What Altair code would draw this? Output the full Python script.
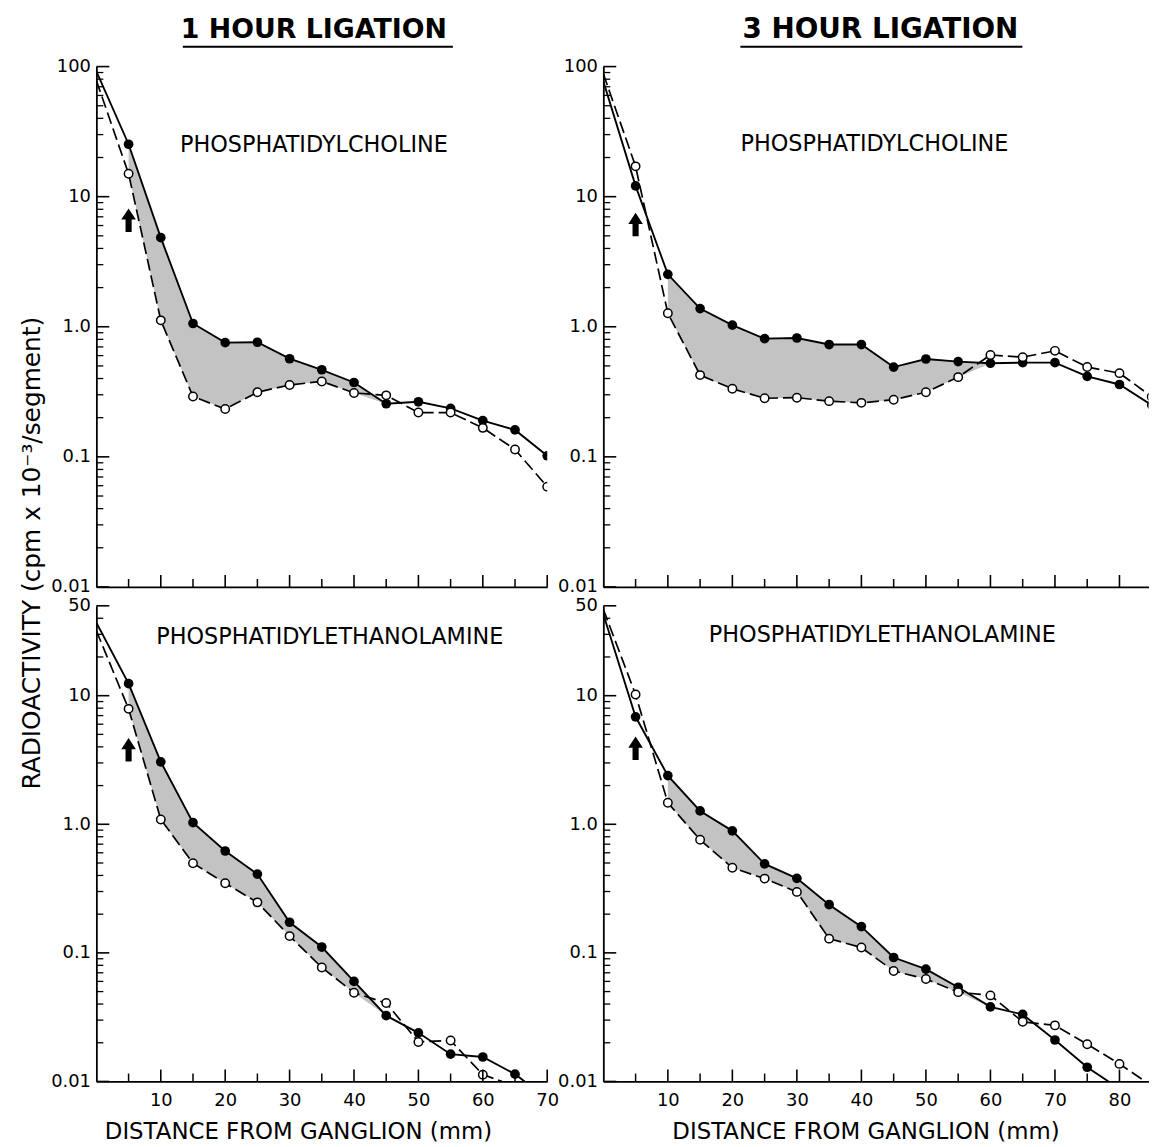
import altair as alt
import pandas as pd

FONT = "DejaVu Sans"

# ---------------- data ----------------
# 1 hour ligation, phosphatidylcholine (top-left)
tl_x = [0, 5, 10, 15, 20, 25, 30, 35, 40, 45, 50, 55, 60, 65, 70]
tl_closed = [92, 25.3, 4.84, 1.06, 0.755, 0.76, 0.568, 0.467, 0.373, 0.256, 0.265, 0.236, 0.19, 0.161, 0.102]
tl_open = [78, 15.0, 1.12, 0.291, 0.233, 0.314, 0.357, 0.38, 0.31, 0.297, 0.219, 0.219, 0.167, 0.114, 0.059]

# 3 hour ligation, phosphatidylcholine (top-right)
tr_x = [0, 5, 10, 15, 20, 25, 30, 35, 40, 45, 50, 55, 60, 65, 70, 75, 80, 85]
tr_closed = [77, 12.1, 2.53, 1.38, 1.03, 0.81, 0.82, 0.73, 0.73, 0.49, 0.565, 0.54, 0.524, 0.53, 0.53, 0.415, 0.36, 0.25]
tr_open = [88, 17.1, 1.27, 0.425, 0.334, 0.282, 0.285, 0.268, 0.26, 0.275, 0.314, 0.41, 0.607, 0.584, 0.653, 0.49, 0.44, 0.29]

# 1 hour ligation, phosphatidylethanolamine (bottom-left)
bl_closed_x = [0, 5, 10, 15, 20, 25, 30, 35, 40, 45, 50, 55, 60, 65, 66.5]
bl_closed = [37, 12.4, 3.06, 1.03, 0.62, 0.41, 0.173, 0.111, 0.060, 0.0325, 0.0239, 0.0163, 0.0155, 0.0114, 0.01]
bl_open_x = [0, 5, 10, 15, 20, 25, 30, 35, 40, 45, 50, 55, 60, 63]
bl_open = [32, 7.9, 1.09, 0.498, 0.348, 0.247, 0.135, 0.077, 0.049, 0.0407, 0.0203, 0.0208, 0.0113, 0.01]

# 3 hour ligation, phosphatidylethanolamine (bottom-right)
br_closed_x = [0, 5, 10, 15, 20, 25, 30, 35, 40, 45, 50, 55, 60, 65, 70, 75, 78.3]
br_closed = [43, 6.85, 2.39, 1.27, 0.889, 0.492, 0.38, 0.237, 0.16, 0.092, 0.0748, 0.054, 0.038, 0.0332, 0.021, 0.0129, 0.01]
br_open_x = [0, 5, 10, 15, 20, 25, 30, 35, 40, 45, 50, 55, 60, 65, 70, 75, 80, 84]
br_open = [47, 10.2, 1.47, 0.757, 0.459, 0.378, 0.298, 0.129, 0.11, 0.0723, 0.0627, 0.0495, 0.0467, 0.0291, 0.0273, 0.0195, 0.0137, 0.01]

# shaded stretch (closed above open) per panel, in mm
shade_tl = (5, 45)
shade_tr = (10, 60)
shade_bl = (5, 45)
shade_br = (10, 60)

# ligature arrow heights (at 5 mm)
arrow_y = [6.6, 6.1, 3.8, 3.9]

# axis tick values
top_major = [0.01, 0.1, 1, 10, 100]
top_minor = [m * d for d in [0.01, 0.1, 1, 10] for m in range(2, 10)]
bot_major = [0.01, 0.1, 1, 10, 50]
bot_minor = [m * d for d in [0.01, 0.1, 1] for m in range(2, 10)] + [20, 30, 40]
left_long_xticks = [10, 20, 30, 40, 50, 60, 70]
left_short_xticks = [5, 15, 25, 35, 45, 55, 65]
right_long_xticks = [10, 20, 30, 40, 50, 60, 70, 80]
right_short_xticks = [5, 15, 25, 35, 45, 55, 65, 75]
left_xlabels = [10, 20, 30, 40, 50, 60, 70]
right_xlabels = [10, 20, 30, 40, 50, 60, 70, 80]

titles = ["1 HOUR LIGATION", "3 HOUR LIGATION"]
compounds = ["PHOSPHATIDYLCHOLINE", "PHOSPHATIDYLETHANOLAMINE"]
x_title = "DISTANCE FROM GANGLION (mm)"
y_title = "RADIOACTIVITY  (cpm x 10\u207b\u00b3/segment)"

LEFT_W, RIGHT_W = 454, 549
TOP_H, BOT_H = 524, 479
SHADE = "#c3c3c3"
ARROW = "M -0.26 1 L -0.26 -0.05 L -0.62 -0.05 L 0 -1 L 0.62 -0.05 L 0.26 -0.05 L 0.26 1 Z"


def panel(cx, cy, ox, oy, ydom, xdom, w, h, ymaj, ymin, xlong, xshort, xlabels,
          shade, ay, label, lpos, bottom, xtitle_x=None, head=None):
    xscale = alt.Scale(domain=xdom, nice=False, zero=False)
    yscale = alt.Scale(type="log", domain=ydom, nice=False)
    if bottom:
        xaxis = alt.Axis(values=xlabels, title=x_title, labelFlush=False, labelPadding=10,
                         labelFontSize=18, titleFontSize=23, titleFont=FONT,
                         titleFontWeight="normal", titleX=xtitle_x, titleY=57,
                         titleBaseline="alphabetic", titleAlign="center", labelOverlap=False)
    else:
        xaxis = alt.Axis(labels=False, title=None)
    yaxis = alt.Axis(values=ymaj, title=None, labelOverlap=False, labelPadding=6,
                     labelFontSize=18,
                     labelExpr="datum.value == 1 ? '1.0' : toString(datum.value)")

    def X(f="x"):
        return alt.X(f + ":Q", scale=xscale, axis=xaxis)

    def Y(f="y"):
        return alt.Y(f + ":Q", scale=yscale, axis=yaxis)

    dc = pd.DataFrame({"x": cx, "y": cy})
    do = pd.DataFrame({"x": ox, "y": oy})
    cmap = dict(zip(cx, cy))
    omap = dict(zip(ox, oy))
    sx = [x for x in cx if shade[0] <= x <= shade[1] and x in omap]
    ds = pd.DataFrame({"x": sx, "closed": [cmap[x] for x in sx], "open": [omap[x] for x in sx]})

    marker_filter = "datum.x > 0 && datum.x % 5 == 0"
    layers = [
        alt.Chart(ds).transform_calculate(lower="min(datum.closed, datum.open)")
        .mark_area(color=SHADE, opacity=1, clip=True)
        .encode(x=X(), y=Y("closed"), y2=alt.Y2("lower:Q")),
        alt.Chart(dc).mark_line(color="black", strokeWidth=1.9, clip=True).encode(x=X(), y=Y()),
        alt.Chart(do).mark_line(color="black", strokeWidth=1.7, strokeDash=[12, 5], clip=True)
        .encode(x=X(), y=Y()),
        alt.Chart(dc).transform_filter(marker_filter)
        .mark_point(shape="circle", filled=True, color="black", size=95, opacity=1, clip=True)
        .encode(x=X(), y=Y()),
        alt.Chart(do).transform_filter(marker_filter)
        .mark_point(shape="circle", filled=True, fill="white", stroke="black", strokeWidth=1.5,
                    size=72, opacity=1, clip=True)
        .encode(x=X(), y=Y()),
        alt.Chart(pd.DataFrame({"y": ymaj})).mark_rule(color="black", strokeWidth=1.6)
        .encode(y=Y(), x=alt.value(0), x2=alt.value(13)),
        alt.Chart(pd.DataFrame({"y": ymin})).mark_rule(color="black", strokeWidth=1.3)
        .encode(y=Y(), x=alt.value(0), x2=alt.value(7)),
        alt.Chart(pd.DataFrame({"x": xlong})).mark_rule(color="black", strokeWidth=1.6)
        .encode(x=X(), y=alt.value(h), y2=alt.value(h - 12)),
        alt.Chart(pd.DataFrame({"x": xshort})).mark_rule(color="black", strokeWidth=1.5)
        .encode(x=X(), y=alt.value(h), y2=alt.value(h - 8)),
        alt.Chart(pd.DataFrame({"x": [5], "y": [ay]}))
        .mark_point(shape=ARROW, filled=True, color="black", size=560, opacity=1)
        .encode(x=X(), y=Y()),
        alt.Chart(pd.DataFrame({"t": [label]}))
        .mark_text(font=FONT, fontSize=22.5, color="black", align="center", baseline="middle")
        .encode(x=alt.value(lpos[0]), y=alt.value(lpos[1]), text="t:N"),
    ]
    if head is not None:
        txt, cxp, ux0, ux1, fs = head
        layers.append(
            alt.Chart(pd.DataFrame({"t": [txt]}))
            .mark_text(font=FONT, fontSize=fs, fontWeight="bold", color="black",
                       align="center", baseline="middle")
            .encode(x=alt.value(cxp), y=alt.value(-37), text="t:N"))
        layers.append(
            alt.Chart(pd.DataFrame({"t": [txt]})).mark_rule(color="black", strokeWidth=2.2)
            .encode(x=alt.value(ux0), x2=alt.value(ux1), y=alt.value(-20)))
    return alt.layer(*layers).properties(width=w, height=h)


tl = panel(tl_x, tl_closed, tl_x, tl_open, [0.01, 100], [0, 70], LEFT_W, TOP_H,
           top_major, top_minor, left_long_xticks, left_short_xticks, left_xlabels,
           shade_tl, arrow_y[0], compounds[0], (219, 79), False,
           head=(titles[0], 219, 87, 359, 27))
ytitle = (alt.Chart(pd.DataFrame({"t": [y_title]}))
          .mark_text(font=FONT, fontSize=25, color="black", angle=270, align="center",
                     baseline="middle")
          .encode(x=alt.value(-65), y=alt.value(490), text="t:N"))
tl = alt.layer(tl, ytitle)

tr = panel(tr_x, tr_closed, tr_x, tr_open, [0.01, 100], [0, 84.5], RIGHT_W, TOP_H,
           top_major, top_minor, right_long_xticks, right_short_xticks, right_xlabels,
           shade_tr, arrow_y[1], compounds[0], (273, 78), False,
           head=(titles[1], 279, 138, 422, 28))
bl = panel(bl_closed_x, bl_closed, bl_open_x, bl_open, [0.01, 50], [0, 70], LEFT_W, BOT_H,
           bot_major, bot_minor, left_long_xticks, left_short_xticks, left_xlabels,
           shade_bl, arrow_y[2], compounds[1], (235, 31), True, xtitle_x=203)
br = panel(br_closed_x, br_closed, br_open_x, br_open, [0.01, 50], [0, 84.5], RIGHT_W, BOT_H,
           bot_major, bot_minor, right_long_xticks, right_short_xticks, right_xlabels,
           shade_br, arrow_y[3], compounds[1], (281, 29), True, xtitle_x=264)

chart = (
    alt.concat(tl, tr, bl, br, columns=2, spacing={"row": 19, "column": 56.5}, bounds="flush")
    .properties(padding={"left": 11, "top": 4, "right": 0, "bottom": 0}, background="white")
    .configure_view(stroke=None)
    .configure_axis(domainColor="black", domainWidth=1.8, labelColor="black", labelFont=FONT,
                    labelFontSize=18, grid=False, ticks=False, titleColor="black")
)

chart.save("out.html", embed_options={"renderer": "svg", "actions": False})
